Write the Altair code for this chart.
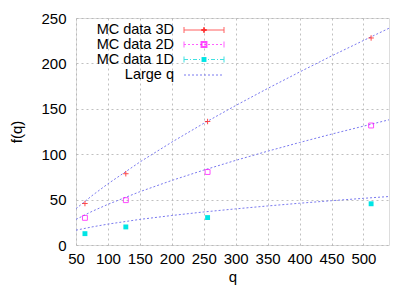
import altair as alt
import pandas as pd

# Data
q_data = [64, 128, 256, 512]
f_3d = [45.7, 78.5, 136.0, 228.0]
f_2d = [29.9, 49.4, 80.4, 131.6]
f_1d = [12.5, 19.9, 30.2, 45.4]

# "Large q" curves, values read at sample q positions
q_curve = [50, 75, 100, 150, 200, 250, 300, 350, 400, 450, 500, 540]
large_3d = [40.0, 54.3, 67.4, 91.4, 113.3, 134.0, 153.6, 172.4, 190.5, 208.2, 225.2, 238.7]
large_2d = [28.2, 37.0, 44.8, 58.7, 71.1, 82.5, 93.2, 103.3, 112.9, 122.1, 130.9, 137.9]
large_1d = [16.3, 19.9, 23.0, 28.2, 32.5, 36.4, 39.8, 43.0, 46.0, 48.8, 51.4, 53.4]

x_ticks = [50, 100, 150, 200, 250, 300, 350, 400, 450, 500]
y_ticks = [0, 50, 100, 150, 200, 250]
legend_names = ["MC data 3D", "MC data 2D", "MC data 1D", "Large q"]

FONT = "Liberation Sans"
BLUE = "#7a7af0"

pts3 = pd.DataFrame({"q": q_data, "f": f_3d})
pts2 = pd.DataFrame({"q": q_data, "f": f_2d})
pts1 = pd.DataFrame({"q": q_data, "f": f_1d})
curves = pd.DataFrame({
    "q": q_curve * 3,
    "f": large_3d + large_2d + large_1d,
    "s": ["3D"] * len(q_curve) + ["2D"] * len(q_curve) + ["1D"] * len(q_curve),
})

xs = alt.Scale(domain=[50, 540], nice=False, zero=False)
ys = alt.Scale(domain=[0, 250], nice=False)

axis_style = dict(labelFont=FONT, titleFont=FONT, labelFontSize=15, titleFontSize=15,
                  labelColor="black", titleColor="black", titleFontWeight="normal",
                  gridColor="#b0b0b0", gridDash=[2, 3], gridWidth=0.8,
                  grid=True, domain=False, ticks=False, labelOverlap=False)
xax = alt.Axis(values=x_ticks, title="q", labelPadding=6,
               titlePadding=3, labelFlush=False, **axis_style)
yax = alt.Axis(values=y_ticks, title="f(q)", labelPadding=10,
               titlePadding=16, **axis_style)

X = alt.X("q:Q", scale=xs, axis=xax)
Y = alt.Y("f:Q", scale=ys, axis=yax)

lines = alt.Chart(curves).mark_line(color=BLUE, strokeDash=[2, 2], strokeWidth=1, clip=True).encode(
    x=X, y=Y, detail="s:N")

plus_shape = "M-1,0L1,0M0,-1L0,1"
p3 = alt.Chart(pts3).mark_point(shape=plus_shape, color="#ff0000", size=30, strokeWidth=1, filled=False).encode(
    x=X, y=Y)
p2 = alt.Chart(pts2).mark_point(shape="square", color="#ff00ff", size=24, strokeWidth=1, filled=False).encode(
    x=X, y=Y)
p1 = alt.Chart(pts1).mark_point(shape="square", color="#00e5e5", size=24, filled=True, opacity=1).encode(
    x=X, y=Y)

# Legend (gnuplot style: text on the left, sample on the right)
row_y = [12, 26.5, 41.5, 57]
tx = 98
sx1, sx2, smid = 108, 148, 128
leg_layers = []
base = alt.Chart(pd.DataFrame({"a": [0]}))
for name, yy in zip(legend_names, row_y):
    leg_layers.append(base.mark_text(align="right", baseline="middle", font=FONT, fontSize=14.5, color="black").encode(
        x=alt.value(tx), y=alt.value(yy), text=alt.value(name)))
# 3D sample: solid red with end caps and +
leg_layers.append(base.mark_rule(color="#ff6060", strokeWidth=1).encode(
    x=alt.value(sx1), x2=alt.value(sx2), y=alt.value(row_y[0])))
for ex in (sx1, sx2):
    leg_layers.append(base.mark_rule(color="#ff6060", strokeWidth=1).encode(
        x=alt.value(ex), y=alt.value(row_y[0] - 3), y2=alt.value(row_y[0] + 3)))
leg_layers.append(base.mark_point(shape=plus_shape, color="#ff0000", size=30, filled=False).encode(
    x=alt.value(smid), y=alt.value(row_y[0])))
# 2D sample
leg_layers.append(base.mark_rule(color="#ff60ff", strokeWidth=1, strokeDash=[2, 2]).encode(
    x=alt.value(sx1), x2=alt.value(sx2), y=alt.value(row_y[1])))
for ex in (sx1, sx2):
    leg_layers.append(base.mark_rule(color="#ff60ff", strokeWidth=1).encode(
        x=alt.value(ex), y=alt.value(row_y[1] - 3), y2=alt.value(row_y[1] + 3)))
leg_layers.append(base.mark_point(shape="square", color="#ff00ff", size=24, filled=False).encode(
    x=alt.value(smid), y=alt.value(row_y[1])))
# 1D sample
leg_layers.append(base.mark_rule(color="#40e0e0", strokeWidth=1, strokeDash=[4, 2, 1, 2]).encode(
    x=alt.value(sx1), x2=alt.value(sx2), y=alt.value(row_y[2])))
for ex in (sx1, sx2):
    leg_layers.append(base.mark_rule(color="#40e0e0", strokeWidth=1).encode(
        x=alt.value(ex), y=alt.value(row_y[2] - 3), y2=alt.value(row_y[2] + 3)))
leg_layers.append(base.mark_point(shape="square", color="#00e5e5", size=24, filled=True, opacity=1).encode(
    x=alt.value(smid), y=alt.value(row_y[2])))
# Large q sample
leg_layers.append(base.mark_rule(color=BLUE, strokeWidth=1, strokeDash=[2, 2]).encode(
    x=alt.value(sx1), x2=alt.value(sx2), y=alt.value(row_y[3])))

chart = alt.layer(lines, p3, p2, p1, *leg_layers).properties(
    width=313, height=227,
    autosize=alt.AutoSizeParams(type="none"),
    padding={"left": 68, "top": 10, "right": 10, "bottom": 40},
).configure_view(stroke="black", strokeWidth=1).configure(background="white")

chart.save("out.html", embed_options={"renderer": "svg", "actions": False})
